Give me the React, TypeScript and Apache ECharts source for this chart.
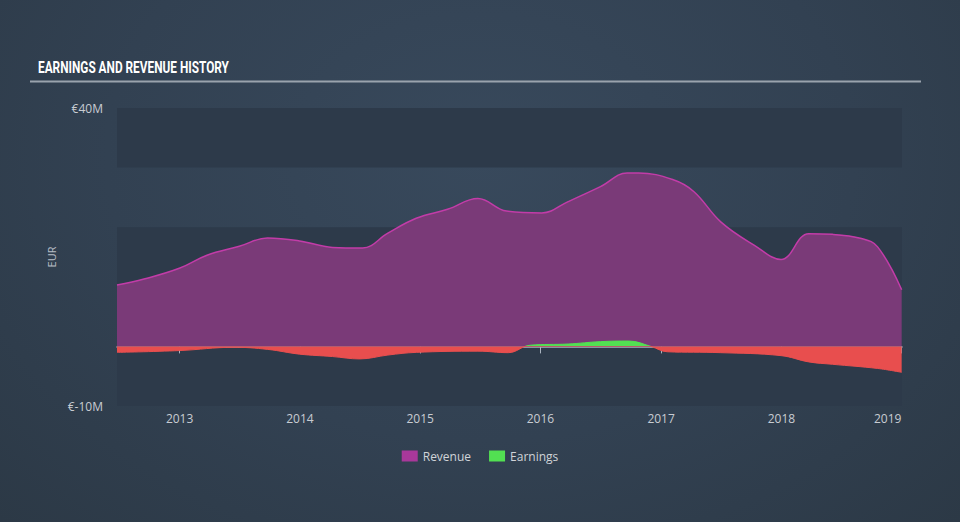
import React, { useEffect, useRef } from "react";
import * as echarts from "echarts";

const revenueDates = [
  "2012-06-25", "2012-09-15", "2012-12-31", "2013-03-25", "2013-07-01", "2013-09-25",
  "2013-12-31", "2014-04-10", "2014-07-10", "2014-09-25", "2014-12-20", "2015-03-25",
  "2015-06-25", "2015-09-20", "2016-01-05", "2016-03-25", "2016-07-01", "2016-09-20",
  "2016-10-25", "2017-02-05", "2017-04-10", "2017-07-01", "2017-10-10", "2017-12-31",
  "2018-03-25", "2018-06-05", "2018-09-01", "2018-10-20", "2019-01-01",
];
const revenueValues = [
  10.3, 11.3, 13.1, 15.3, 16.8, 18.2,
  17.7, 16.6, 16.5, 19.0, 21.5, 23.0,
  24.8, 22.7, 22.4, 24.3, 26.8, 29.1,
  29.1, 28.0, 26.0, 20.9, 17.0, 14.6,
  18.9, 18.8, 18.1, 16.7, 9.5,
];

const earningsDates = [
  "2012-06-25", "2012-12-31", "2013-06-15", "2013-09-25", "2013-12-31", "2014-04-10",
  "2014-07-01", "2014-09-25", "2014-12-20", "2015-06-25", "2015-09-25", "2015-12-01",
  "2016-03-25", "2016-07-01", "2016-09-25", "2016-12-01", "2017-01-20", "2017-06-30",
  "2017-12-31", "2018-03-25", "2018-06-05", "2018-10-20", "2019-01-01",
];
const earningsValues = [
  -1.0, -0.7, -0.15, -0.5, -1.3, -1.7,
  -2.1, -1.45, -1.0, -0.8, -1.05, 0.2,
  0.4, 0.8, 0.9, 0.0, -0.9, -1.05,
  -1.55, -2.6, -3.0, -3.7, -4.35,
];

const seriesNames = ["Revenue", "Earnings"];
const chartTitle = "EARNINGS AND REVENUE HISTORY";
const lastYear = 2019;

const toTime = (d: string) => {
  const [y, m, day] = d.split("-").map(Number);
  return new Date(y, m - 1, day).getTime();
};

export default function App() {
  const ref = useRef<HTMLDivElement>(null);
  useEffect(() => {
    if (!ref.current) return;
    const chart = echarts.init(ref.current, null, { renderer: "svg" });
    chart.setOption({
      animation: false,
      backgroundColor: "transparent",
      graphic: [
        {
          type: "text",
          x: 38,
          y: 59,
          scaleX: 0.74,
          style: {
            text: chartTitle,
            fill: "#ffffff",
            font: "bold 16px Roboto",
            textVerticalAlign: "top",
          },
        },
        {
          type: "line",
          shape: { x1: 30, y1: 81.5, x2: 921, y2: 81.5 },
          style: { stroke: "#9aa3ad", lineWidth: 2 },
        },
      ],
      legend: {
        bottom: 55,
        left: "center",
        itemWidth: 16,
        itemHeight: 11,
        itemGap: 18,
        icon: "rect",
        data: seriesNames,
        textStyle: { color: "#d0d4d8", fontSize: 12, fontFamily: "Open Sans" },
      },
      grid: { left: 117, right: 58, top: 108, bottom: 116 },
      xAxis: {
        type: "time",
        min: toTime("2012-06-25"),
        max: toTime("2019-01-02"),
        axisLine: { show: true, lineStyle: { color: "#aab4c0", width: 1.5 } },
        axisTick: { show: true, length: 7, lineStyle: { color: "#aab4c0" } },
        axisLabel: {
          color: "#c8ccd2",
          fontSize: 12,
          fontFamily: "Open Sans",
          margin: 6,
          formatter: (v: number) => {
            const y = new Date(v).getFullYear();
            return y === lastYear ? `{last|${y}}` : String(y);
          },
          rich: {
            last: {
              color: "#c8ccd2",
              fontSize: 12,
              fontFamily: "Open Sans",
              padding: [0, 28, 0, 0],
            },
          },
        },
        splitLine: { show: false },
      },
      yAxis: {
        type: "value",
        min: -10,
        max: 40,
        interval: 10,
        name: "EUR",
        nameLocation: "middle",
        nameGap: 50,
        nameRotate: 90,
        nameTextStyle: { color: "#b8bec6", fontSize: 11, fontFamily: "Open Sans" },
        axisLine: { show: false },
        axisTick: { show: false },
        splitLine: { show: false },
        splitArea: {
          show: true,
          areaStyle: { color: ["#2d3a4a", "rgba(0,0,0,0)"] },
        },
        axisLabel: {
          color: "#c8ccd2",
          fontSize: 12,
          fontFamily: "Open Sans",
          margin: 14,
          formatter: (v: number) => (v === 40 ? "€40M" : v === -10 ? "€-10M" : ""),
        },
      },
      visualMap: {
        show: false,
        seriesIndex: 1,
        dimension: 1,
        pieces: [
          { min: -50, max: 0, color: "#e84e4e" },
          { gt: 0, max: 50, color: "#52e052" },
        ],
      },
      series: [
        {
          name: seriesNames[0],
          type: "line",
          smooth: 0.4,
          symbol: "none",
          data: revenueDates.map((d, i) => [toTime(d), revenueValues[i]]),
          lineStyle: { color: "#c23ca8", width: 1.5 },
          itemStyle: { color: "#a8389a" },
          areaStyle: { color: "#7a3a78", opacity: 1 },
          z: 2,
        },
        {
          name: seriesNames[1],
          type: "line",
          smooth: 0.4,
          symbol: "none",
          data: earningsDates.map((d, i) => [toTime(d), earningsValues[i]]),
          lineStyle: { width: 1 },
          itemStyle: { color: "#52e052" },
          areaStyle: { opacity: 1 },
          z: 3,
        },
      ],
    });
    return () => chart.dispose();
  }, []);
  return (
    <div
      style={{
        position: "absolute",
        left: 0,
        top: 0,
        width: 960,
        height: 522,
        background: "radial-gradient(ellipse at 50% 30%, #38495c 0%, #324152 55%, #2c3946 100%)",
      }}
    >
      <div ref={ref} style={{ width: 960, height: 522 }} />
    </div>
  );
}
